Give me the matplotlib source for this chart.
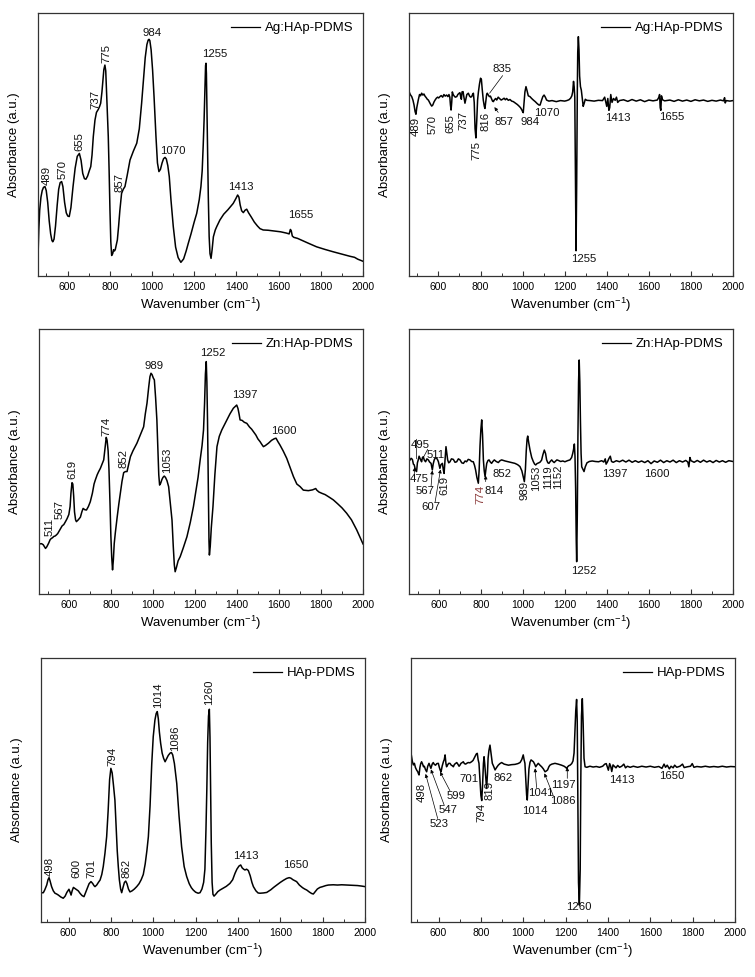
import matplotlib
matplotlib.use("Agg")
import matplotlib.pyplot as plt
from matplotlib.ticker import MultipleLocator

plt.rcParams['font.family'] = ['Liberation Sans', 'DejaVu Sans']
plt.rcParams['mathtext.fontset'] = 'custom'
plt.rcParams['mathtext.rm'] = 'Liberation Sans'
plt.rcParams['mathtext.it'] = 'Liberation Sans:italic'
plt.rcParams['mathtext.bf'] = 'Liberation Sans:bold'

# ---------------- DATA (wavenumber cm^-1, absorbance a.u.) ----------------
ag_abs = [(461, 0.10), (464, 0.18), (468, 0.25), (474, 0.30), (480, 0.325), (486, 0.337), (493, 0.340),
          (499, 0.325), (506, 0.28), (513, 0.21), (520, 0.16), (526, 0.135), (530, 0.130), (536, 0.14),
          (543, 0.19), (551, 0.27), (558, 0.33), (565, 0.355), (572, 0.359), (578, 0.34), (586, 0.28),
          (594, 0.24), (601, 0.228), (608, 0.226), (616, 0.26), (626, 0.34), (636, 0.41), (646, 0.455),
          (656, 0.466), (664, 0.44), (672, 0.39), (680, 0.37), (687, 0.368), (695, 0.38), (703, 0.40),
          (710, 0.416), (716, 0.46), (722, 0.53), (730, 0.593), (737, 0.622), (746, 0.634), (752, 0.645),
          (757, 0.657), (763, 0.70), (768, 0.75), (772, 0.785), (777, 0.802), (781, 0.78), (785, 0.70),
          (789, 0.61), (793, 0.53), (797, 0.40), (801, 0.25), (805, 0.13), (809, 0.078), (814, 0.085),
          (818, 0.10), (822, 0.095), (826, 0.10), (831, 0.118), (836, 0.137), (842, 0.19), (848, 0.25),
          (856, 0.314), (864, 0.33), (872, 0.340), (882, 0.38), (896, 0.441), (912, 0.475), (928, 0.505),
          (940, 0.56), (951, 0.657), (960, 0.75), (968, 0.83), (976, 0.88), (982, 0.897), (986, 0.900),
          (990, 0.895), (996, 0.86), (1003, 0.783), (1010, 0.68), (1019, 0.530), (1026, 0.43),
          (1033, 0.397), (1040, 0.405), (1048, 0.43), (1055, 0.446), (1062, 0.451), (1068, 0.445),
          (1075, 0.42), (1082, 0.378), (1090, 0.29), (1101, 0.188), (1112, 0.11), (1124, 0.07),
          (1137, 0.052), (1150, 0.065), (1162, 0.095), (1172, 0.124), (1185, 0.16), (1200, 0.205),
          (1212, 0.238), (1224, 0.29), (1232, 0.34), (1238, 0.40), (1243, 0.50), (1247, 0.593),
          (1251, 0.72), (1254, 0.80), (1256, 0.809), (1258, 0.77), (1261, 0.62), (1264, 0.45),
          (1267, 0.30), (1271, 0.15), (1275, 0.085), (1280, 0.067), (1285, 0.10), (1291, 0.149),
          (1300, 0.175), (1307, 0.188), (1322, 0.213), (1340, 0.235), (1360, 0.252), (1385, 0.276),
          (1398, 0.295), (1406, 0.308), (1412, 0.300), (1418, 0.270), (1425, 0.248), (1433, 0.241),
          (1441, 0.250), (1449, 0.254), (1458, 0.240), (1470, 0.225), (1485, 0.205), (1500, 0.190),
          (1512, 0.180), (1527, 0.175), (1550, 0.174), (1580, 0.171), (1610, 0.168), (1638, 0.163),
          (1650, 0.160), (1656, 0.177), (1660, 0.172), (1665, 0.152), (1672, 0.147), (1690, 0.143),
          (1701, 0.139), (1740, 0.125), (1780, 0.111), (1820, 0.101), (1859, 0.092), (1900, 0.083),
          (1938, 0.075), (1960, 0.071), (1975, 0.064), (2000, 0.056)]

ag_der = [(461, 0.700), (466, 0.690), (473, 0.682), (479, 0.668), (484, 0.650), (489, 0.625), (493, 0.615),
          (497, 0.640), (504, 0.669), (510, 0.690), (515, 0.685), (520, 0.695), (526, 0.688), (531, 0.692),
          (536, 0.684), (542, 0.678), (547, 0.672), (552, 0.669), (558, 0.660), (563, 0.652), (568, 0.646),
          (573, 0.650), (579, 0.662), (584, 0.669), (590, 0.676), (596, 0.680), (601, 0.677), (607, 0.682),
          (613, 0.686), (620, 0.680), (626, 0.690), (632, 0.684), (639, 0.688), (645, 0.682), (650, 0.690),
          (654, 0.680), (657, 0.650), (660, 0.631), (663, 0.660), (666, 0.700), (670, 0.690), (675, 0.684),
          (680, 0.680), (687, 0.682), (692, 0.690), (697, 0.694), (702, 0.697), (706, 0.680), (709, 0.672),
          (712, 0.700), (717, 0.701), (721, 0.680), (726, 0.657), (730, 0.672), (735, 0.690), (742, 0.695),
          (748, 0.684), (753, 0.680), (758, 0.682), (762, 0.690), (766, 0.695), (770, 0.660), (774, 0.560),
          (778, 0.525), (782, 0.590), (786, 0.669), (790, 0.700), (795, 0.730), (800, 0.752), (804, 0.748),
          (808, 0.710), (813, 0.669), (818, 0.645), (821, 0.637), (825, 0.665), (829, 0.690), (832, 0.695),
          (837, 0.688), (842, 0.682), (847, 0.684), (852, 0.675), (857, 0.665), (861, 0.663), (866, 0.670),
          (872, 0.675), (877, 0.669), (884, 0.680), (890, 0.675), (898, 0.669), (905, 0.672), (912, 0.676),
          (918, 0.670), (924, 0.675), (932, 0.668), (940, 0.671), (948, 0.665), (956, 0.663), (965, 0.658),
          (975, 0.652), (983, 0.646), (990, 0.640), (996, 0.632), (1000, 0.625), (1003, 0.621),
          (1007, 0.660), (1011, 0.700), (1016, 0.720), (1021, 0.705), (1027, 0.685), (1035, 0.682),
          (1043, 0.675), (1051, 0.669), (1060, 0.663), (1070, 0.655), (1078, 0.650), (1083, 0.650),
          (1090, 0.668), (1096, 0.682), (1102, 0.688), (1108, 0.680), (1114, 0.669), (1125, 0.665),
          (1140, 0.667), (1160, 0.663), (1180, 0.667), (1200, 0.665), (1210, 0.667), (1220, 0.670),
          (1228, 0.676), (1234, 0.685), (1238, 0.700), (1242, 0.740), (1245, 0.720), (1248, 0.680),
          (1251, 0.400), (1254, 0.096), (1257, 0.350), (1260, 0.700), (1262, 0.850), (1265, 0.910),
          (1268, 0.860), (1271, 0.760), (1275, 0.720), (1279, 0.707), (1283, 0.680), (1288, 0.645),
          (1292, 0.655), (1298, 0.672), (1305, 0.668), (1320, 0.667), (1340, 0.665), (1360, 0.668),
          (1380, 0.667), (1390, 0.680), (1396, 0.660), (1400, 0.645), (1405, 0.675), (1410, 0.630),
          (1414, 0.640), (1419, 0.690), (1425, 0.660), (1432, 0.675), (1440, 0.668), (1446, 0.680),
          (1452, 0.660), (1460, 0.667), (1480, 0.670), (1500, 0.664), (1520, 0.671), (1540, 0.665),
          (1560, 0.670), (1580, 0.663), (1600, 0.669), (1620, 0.666), (1640, 0.669), (1648, 0.680),
          (1651, 0.690), (1654, 0.640), (1657, 0.630), (1660, 0.685), (1665, 0.670), (1675, 0.666),
          (1700, 0.669), (1720, 0.664), (1740, 0.670), (1760, 0.665), (1780, 0.669), (1800, 0.664),
          (1820, 0.670), (1840, 0.666), (1860, 0.669), (1880, 0.664), (1900, 0.668), (1920, 0.665),
          (1940, 0.669), (1955, 0.666), (1960, 0.678), (1963, 0.658), (1968, 0.667), (1985, 0.665),
          (2000, 0.667)]

zn_abs = [(461, 0.189), (470, 0.190), (478, 0.186), (484, 0.178), (489, 0.172), (495, 0.178), (504, 0.192),
          (511, 0.205), (517, 0.210), (522, 0.212), (528, 0.217), (535, 0.219), (541, 0.223), (547, 0.228),
          (552, 0.235), (560, 0.247), (568, 0.257), (576, 0.262), (584, 0.273), (592, 0.285), (600, 0.300),
          (606, 0.330), (610, 0.380), (615, 0.420), (619, 0.415), (623, 0.370), (627, 0.310), (632, 0.280),
          (636, 0.273), (645, 0.280), (655, 0.290), (662, 0.310), (668, 0.323), (676, 0.318), (684, 0.317),
          (693, 0.330), (702, 0.348), (712, 0.380), (720, 0.415), (726, 0.430), (735, 0.450), (742, 0.462),
          (750, 0.474), (758, 0.490), (766, 0.506), (772, 0.550), (778, 0.591), (782, 0.580), (787, 0.540),
          (791, 0.470), (796, 0.340), (800, 0.220), (804, 0.140), (808, 0.091), (812, 0.130), (816, 0.190),
          (821, 0.229), (830, 0.290), (838, 0.340), (845, 0.380), (853, 0.425), (861, 0.458), (869, 0.462),
          (877, 0.462), (885, 0.490), (893, 0.518), (905, 0.540), (915, 0.555), (924, 0.569), (935, 0.590),
          (946, 0.610), (956, 0.631), (964, 0.680), (972, 0.720), (980, 0.780), (986, 0.820), (991, 0.833),
          (996, 0.828), (1002, 0.815), (1007, 0.808), (1013, 0.740), (1019, 0.657), (1024, 0.540),
          (1028, 0.450), (1032, 0.411), (1037, 0.418), (1043, 0.432), (1048, 0.440), (1054, 0.445),
          (1060, 0.440), (1067, 0.428), (1075, 0.405), (1083, 0.340), (1091, 0.279), (1097, 0.180),
          (1102, 0.110), (1106, 0.084), (1112, 0.100), (1120, 0.125), (1130, 0.141), (1145, 0.175),
          (1162, 0.216), (1178, 0.270), (1193, 0.330), (1205, 0.390), (1215, 0.440), (1225, 0.506),
          (1234, 0.560), (1241, 0.619), (1246, 0.720), (1250, 0.830), (1254, 0.877), (1257, 0.800),
          (1260, 0.657), (1264, 0.400), (1267, 0.200), (1269, 0.147), (1273, 0.180), (1278, 0.250),
          (1286, 0.330), (1295, 0.450), (1305, 0.556), (1316, 0.595), (1328, 0.619), (1340, 0.638),
          (1352, 0.657), (1367, 0.680), (1383, 0.701), (1392, 0.708), (1399, 0.713), (1405, 0.700),
          (1410, 0.680), (1415, 0.657), (1425, 0.655), (1435, 0.648), (1447, 0.644), (1460, 0.630),
          (1470, 0.622), (1478, 0.613), (1490, 0.600), (1500, 0.585), (1510, 0.575), (1518, 0.565),
          (1526, 0.556), (1535, 0.560), (1550, 0.569), (1565, 0.580), (1578, 0.586), (1586, 0.588),
          (1595, 0.575), (1605, 0.562), (1620, 0.540), (1637, 0.512), (1652, 0.480), (1669, 0.443),
          (1685, 0.415), (1701, 0.405), (1716, 0.392), (1740, 0.390), (1760, 0.393), (1775, 0.398),
          (1780, 0.392), (1790, 0.385), (1804, 0.380), (1820, 0.375), (1840, 0.365), (1859, 0.355),
          (1880, 0.340), (1900, 0.325), (1922, 0.305), (1945, 0.280), (1970, 0.242), (1985, 0.215),
          (2000, 0.189)]

zn_der = [(462, 0.505), (468, 0.512), (474, 0.508), (479, 0.490), (483, 0.487), (488, 0.470), (494, 0.462),
          (498, 0.495), (502, 0.506), (506, 0.520), (510, 0.512), (514, 0.505), (518, 0.499), (522, 0.515),
          (526, 0.518), (531, 0.505), (537, 0.499), (543, 0.510), (550, 0.506), (556, 0.498), (563, 0.493),
          (566, 0.480), (569, 0.468), (573, 0.490), (578, 0.506), (584, 0.515), (590, 0.512), (595, 0.505),
          (598, 0.499), (602, 0.485), (605, 0.474), (610, 0.488), (617, 0.493), (621, 0.470), (625, 0.455),
          (629, 0.500), (634, 0.556), (638, 0.530), (642, 0.506), (647, 0.495), (653, 0.499), (660, 0.510),
          (669, 0.508), (677, 0.497), (685, 0.499), (693, 0.510), (701, 0.506), (709, 0.495), (717, 0.493),
          (725, 0.502), (732, 0.499), (740, 0.508), (748, 0.506), (756, 0.500), (764, 0.499), (770, 0.485),
          (775, 0.468), (781, 0.440), (788, 0.418), (792, 0.470), (796, 0.560), (800, 0.620), (804, 0.657),
          (808, 0.600), (812, 0.506), (816, 0.465), (820, 0.443), (824, 0.470), (828, 0.493), (834, 0.504),
          (839, 0.506), (845, 0.498), (851, 0.493), (857, 0.500), (864, 0.506), (873, 0.500), (883, 0.496),
          (891, 0.503), (899, 0.506), (915, 0.502), (931, 0.499), (947, 0.496), (962, 0.493), (975, 0.488),
          (986, 0.481), (995, 0.465), (1002, 0.440), (1007, 0.424), (1012, 0.470), (1016, 0.540),
          (1020, 0.585), (1023, 0.596), (1028, 0.570), (1034, 0.543), (1042, 0.515), (1050, 0.499),
          (1056, 0.490), (1061, 0.487), (1067, 0.492), (1073, 0.494), (1081, 0.497), (1089, 0.505),
          (1095, 0.525), (1102, 0.543), (1108, 0.530), (1113, 0.506), (1119, 0.495), (1124, 0.493),
          (1130, 0.500), (1137, 0.506), (1143, 0.500), (1149, 0.496), (1155, 0.501), (1162, 0.506),
          (1169, 0.504), (1180, 0.500), (1190, 0.502), (1200, 0.499), (1212, 0.503), (1224, 0.506),
          (1232, 0.515), (1237, 0.530), (1241, 0.545), (1245, 0.566), (1248, 0.520), (1251, 0.400),
          (1254, 0.200), (1256, 0.122), (1259, 0.300), (1262, 0.600), (1265, 0.800), (1268, 0.883),
          (1271, 0.800), (1274, 0.650), (1277, 0.530), (1280, 0.480), (1286, 0.470), (1291, 0.462),
          (1297, 0.480), (1305, 0.495), (1316, 0.500), (1330, 0.502), (1345, 0.500), (1360, 0.499),
          (1375, 0.503), (1385, 0.498), (1392, 0.510), (1396, 0.490), (1402, 0.498), (1410, 0.512),
          (1416, 0.520), (1422, 0.500), (1430, 0.497), (1445, 0.503), (1460, 0.499), (1475, 0.505),
          (1490, 0.498), (1505, 0.505), (1520, 0.497), (1535, 0.503), (1550, 0.497), (1565, 0.502),
          (1580, 0.496), (1595, 0.503), (1610, 0.492), (1625, 0.502), (1640, 0.497), (1655, 0.505),
          (1670, 0.496), (1685, 0.503), (1700, 0.498), (1715, 0.505), (1730, 0.496), (1745, 0.503),
          (1760, 0.498), (1775, 0.504), (1785, 0.498), (1790, 0.480), (1795, 0.515), (1800, 0.503),
          (1815, 0.497), (1830, 0.504), (1845, 0.497), (1860, 0.505), (1875, 0.498), (1890, 0.503),
          (1905, 0.496), (1920, 0.504), (1935, 0.498), (1950, 0.503), (1965, 0.497), (1980, 0.503),
          (2000, 0.500)]

hap_abs = [(471, 0.109), (476, 0.111), (481, 0.111), (488, 0.122), (497, 0.140), (503, 0.160), (508, 0.168),
           (513, 0.155), (520, 0.134), (528, 0.118), (536, 0.109), (544, 0.106), (552, 0.102), (563, 0.095),
           (575, 0.090), (584, 0.098), (592, 0.112), (602, 0.124), (607, 0.114), (612, 0.102), (617, 0.118),
           (623, 0.131), (630, 0.127), (638, 0.122), (646, 0.118), (655, 0.108), (664, 0.100), (673, 0.096),
           (680, 0.110), (689, 0.128), (697, 0.145), (706, 0.153), (714, 0.146), (720, 0.138), (725, 0.134),
           (733, 0.140), (741, 0.150), (749, 0.159), (757, 0.180), (764, 0.210), (772, 0.260), (780, 0.323),
           (787, 0.420), (794, 0.540), (800, 0.582), (806, 0.565), (812, 0.520), (819, 0.462), (825, 0.360),
           (830, 0.270), (835, 0.210), (840, 0.160), (846, 0.125), (851, 0.111), (857, 0.130), (864, 0.150),
           (870, 0.155), (876, 0.145), (883, 0.125), (890, 0.114), (900, 0.118), (911, 0.125), (922, 0.134),
           (933, 0.145), (943, 0.160), (953, 0.180), (962, 0.220), (970, 0.270), (977, 0.323), (985, 0.440),
           (993, 0.600), (1000, 0.702), (1008, 0.765), (1014, 0.790), (1019, 0.797), (1024, 0.770),
           (1029, 0.720), (1035, 0.677), (1042, 0.640), (1049, 0.620), (1056, 0.607), (1063, 0.618),
           (1071, 0.631), (1080, 0.640), (1086, 0.642), (1092, 0.633), (1100, 0.600), (1111, 0.525),
           (1122, 0.400), (1134, 0.285), (1146, 0.210), (1158, 0.172), (1170, 0.145), (1180, 0.130),
           (1189, 0.121), (1200, 0.113), (1212, 0.109), (1221, 0.111), (1230, 0.125), (1238, 0.150),
           (1244, 0.200), (1249, 0.350), (1253, 0.500), (1257, 0.680), (1261, 0.780), (1265, 0.806),
           (1268, 0.700), (1271, 0.500), (1274, 0.300), (1278, 0.150), (1282, 0.105), (1287, 0.098),
           (1295, 0.105), (1305, 0.115), (1315, 0.121), (1330, 0.128), (1345, 0.135), (1362, 0.146),
           (1375, 0.160), (1386, 0.184), (1395, 0.200), (1405, 0.212), (1413, 0.216), (1420, 0.205),
           (1427, 0.200), (1433, 0.197), (1441, 0.200), (1449, 0.195), (1458, 0.175), (1466, 0.150),
           (1473, 0.134), (1485, 0.118), (1495, 0.110), (1504, 0.109), (1520, 0.110), (1536, 0.112),
           (1555, 0.122), (1570, 0.132), (1583, 0.140), (1600, 0.150), (1615, 0.158), (1630, 0.165),
           (1642, 0.168), (1650, 0.166), (1660, 0.160), (1677, 0.153), (1690, 0.140), (1705, 0.130),
           (1715, 0.125), (1725, 0.121), (1738, 0.113), (1748, 0.108), (1756, 0.106), (1765, 0.115),
           (1775, 0.125), (1787, 0.131), (1800, 0.134), (1815, 0.138), (1827, 0.140), (1850, 0.141),
           (1870, 0.140), (1890, 0.141), (1913, 0.140), (1940, 0.139), (1965, 0.138), (1985, 0.136),
           (2000, 0.134)]

hap_der = [(472, 0.630), (476, 0.610), (481, 0.595), (486, 0.601), (491, 0.585), (497, 0.575), (502, 0.569),
           (505, 0.562), (508, 0.557), (512, 0.585), (516, 0.600), (520, 0.607), (525, 0.598), (529, 0.588),
           (533, 0.590), (538, 0.578), (544, 0.569), (549, 0.590), (555, 0.601), (559, 0.592), (564, 0.582),
           (570, 0.598), (575, 0.604), (580, 0.597), (586, 0.594), (592, 0.600), (599, 0.601), (604, 0.585),
           (608, 0.575), (612, 0.569), (617, 0.590), (623, 0.607), (627, 0.615), (631, 0.633), (635, 0.600),
           (638, 0.588), (643, 0.595), (648, 0.601), (654, 0.601), (660, 0.594), (665, 0.592), (670, 0.588),
           (675, 0.597), (680, 0.600), (686, 0.604), (692, 0.597), (697, 0.590), (701, 0.594), (706, 0.601),
           (712, 0.604), (717, 0.607), (722, 0.600), (728, 0.598), (733, 0.601), (740, 0.604), (748, 0.603),
           (756, 0.607), (763, 0.612), (768, 0.620), (772, 0.626), (778, 0.636), (783, 0.639), (787, 0.615),
           (791, 0.601), (796, 0.530), (800, 0.480), (804, 0.460), (808, 0.520), (812, 0.600), (815, 0.626),
           (818, 0.600), (822, 0.560), (827, 0.506), (831, 0.560), (834, 0.620), (838, 0.650), (843, 0.670),
           (848, 0.640), (854, 0.601), (860, 0.590), (867, 0.576), (874, 0.585), (882, 0.594), (890, 0.600),
           (898, 0.604), (910, 0.598), (920, 0.596), (930, 0.594), (945, 0.596), (961, 0.597), (975, 0.600),
           (985, 0.604), (993, 0.615), (1000, 0.633), (1004, 0.615), (1008, 0.601), (1012, 0.540),
           (1016, 0.480), (1019, 0.462), (1023, 0.520), (1027, 0.580), (1032, 0.605), (1037, 0.614),
           (1043, 0.610), (1048, 0.607), (1054, 0.598), (1059, 0.588), (1065, 0.595), (1071, 0.601),
           (1079, 0.594), (1087, 0.588), (1095, 0.580), (1103, 0.569), (1109, 0.572), (1115, 0.576),
           (1121, 0.588), (1126, 0.594), (1135, 0.598), (1150, 0.601), (1165, 0.598), (1181, 0.594),
           (1193, 0.590), (1200, 0.586), (1205, 0.582), (1210, 0.588), (1215, 0.592), (1221, 0.594),
           (1229, 0.600), (1235, 0.610), (1240, 0.640), (1244, 0.720), (1248, 0.800), (1252, 0.843),
           (1255, 0.760), (1258, 0.450), (1261, 0.150), (1265, 0.064), (1269, 0.200), (1272, 0.550),
           (1275, 0.780), (1279, 0.846), (1283, 0.750), (1287, 0.620), (1292, 0.588), (1300, 0.586),
           (1315, 0.590), (1330, 0.587), (1345, 0.589), (1360, 0.586), (1375, 0.590), (1385, 0.598),
           (1392, 0.600), (1398, 0.585), (1402, 0.575), (1408, 0.600), (1413, 0.590), (1418, 0.570),
           (1424, 0.595), (1430, 0.590), (1438, 0.584), (1446, 0.593), (1455, 0.586), (1465, 0.590),
           (1475, 0.598), (1483, 0.584), (1492, 0.590), (1505, 0.586), (1520, 0.590), (1540, 0.586),
           (1560, 0.590), (1580, 0.587), (1600, 0.590), (1620, 0.586), (1640, 0.589), (1655, 0.582),
           (1665, 0.598), (1672, 0.586), (1680, 0.594), (1690, 0.580), (1698, 0.590), (1708, 0.584),
           (1715, 0.594), (1725, 0.586), (1740, 0.590), (1752, 0.598), (1760, 0.585), (1775, 0.588),
           (1790, 0.590), (1798, 0.600), (1806, 0.586), (1820, 0.589), (1840, 0.587), (1860, 0.590),
           (1880, 0.587), (1900, 0.589), (1920, 0.587), (1940, 0.590), (1960, 0.587), (1980, 0.589),
           (2000, 0.588)]

# peak labels: (text, wavenumber, absorbance)
ag_abs_peaks = [('489', 499, 0.345), ('570', 578, 0.37), ('655', 656, 0.475), ('737', 730, 0.635),
                ('775', 785, 0.81), ('857', 848, 0.32), ('984', 1000, 0.905), ('1070', 1101, 0.455),
                ('1255', 1298, 0.826), ('1413', 1422, 0.318), ('1655', 1703, 0.212)]
ag_der_peaks = [('489', 493, 0.606), ('570', 570, 0.612), ('655', 658, 0.615), ('737', 721, 0.628),
                ('775', 782, 0.515), ('816', 825, 0.625), ('835', 900, 0.768), ('857', 911, 0.603),
                ('984', 1034, 0.603), ('1070', 1117, 0.64), ('1413', 1455, 0.619), ('1655', 1708, 0.625),
                ('1255', 1289, 0.082)]
zn_abs_peaks = [('511', 510, 0.22), ('567', 558, 0.282), ('619', 615, 0.435), ('774', 781, 0.598),
                ('852', 858, 0.475), ('989', 1007, 0.84), ('1053', 1068, 0.458), ('1252', 1286, 0.89),
                ('1397', 1439, 0.732), ('1600', 1621, 0.595)]
zn_der_peaks = [('495', 512, 0.582), ('511', 585, 0.542), ('475', 507, 0.452), ('567', 537, 0.406),
                ('607', 561, 0.346), ('619', 628, 0.446), ('774', 796, 0.411), ('814', 861, 0.408),
                ('852', 899, 0.471), ('989', 1010, 0.427), ('1053', 1062, 0.484), ('1119', 1118, 0.484),
                ('1152', 1168, 0.49), ('1252', 1290, 0.106), ('1397', 1439, 0.471), ('1600', 1637, 0.471)]
hap_abs_peaks = [('498', 512, 0.175), ('600', 635, 0.168), ('701', 709, 0.168), ('794', 807, 0.59),
                 ('862', 875, 0.165), ('1014', 1024, 0.81), ('1086', 1103, 0.648), ('1260', 1263, 0.822),
                 ('1413', 1437, 0.23), ('1650', 1673, 0.198)]
hap_der_peaks = [('498', 520, 0.528), ('523', 602, 0.392), ('547', 643, 0.442), ('599', 681, 0.497),
                 ('701', 744, 0.56), ('794', 804, 0.452), ('819', 843, 0.533), ('862', 903, 0.566),
                 ('1014', 1055, 0.44), ('1041', 1082, 0.509), ('1086', 1189, 0.478), ('1197', 1192, 0.537),
                 ('1260', 1263, 0.075), ('1413', 1465, 0.556), ('1650', 1701, 0.572)]

sample_names = ['Ag:HAp-PDMS', 'Zn:HAp-PDMS', 'HAp-PDMS']

# ---------------- LAYOUT / STYLE ----------------
W, H = 755, 977
rot_sets = {
    'ag_abs': {'489', '570', '655', '737', '775', '857'},
    'ag_der': {'489', '570', '655', '737', '775', '816'},
    'zn_abs': {'511', '567', '619', '774', '852', '1053'},
    'zn_der': {'619', '774', '989', '1053', '1119', '1152'},
    'hap_abs': {'498', '600', '701', '794', '862', '1014', '1086', '1260'},
    'hap_der': {'498', '794', '819'},
}

panels = [
    dict(key='ag_abs', box=(38, 13, 363, 276), xlim=(460, 2000), data=ag_abs, peaks=ag_abs_peaks,
         name=sample_names[0], below=False, arrows=[]),
    dict(key='ag_der', box=(409, 13, 733, 276), xlim=(460, 2000), data=ag_der, peaks=ag_der_peaks,
         name=sample_names[0], below=True,
         arrows=[((905, 0.762), (843, 0.695), '-'), ((884, 0.622), (866, 0.642), '-|>')]),
    dict(key='zn_abs', box=(39, 329, 363, 594), xlim=(458, 2000), data=zn_abs, peaks=zn_abs_peaks,
         name=sample_names[1], below=False, arrows=[]),
    dict(key='zn_der', box=(409, 329, 733, 594), xlim=(458, 2000), data=zn_der, peaks=zn_der_peaks,
         name=sample_names[1], below=True,
         arrows=[((494, 0.584), (493, 0.51), '-'), ((547, 0.546), (524, 0.512), '-'),
                 ((483, 0.452), (485, 0.478), '-|>'), ((563, 0.406), (569, 0.466), '-|>'),
                 ((582, 0.346), (608, 0.470), '-|>'), ((823, 0.424), (823, 0.447), '-|>')]),
    dict(key='hap_abs', box=(41, 658, 365, 922), xlim=(470, 2000), data=hap_abs, peaks=hap_abs_peaks,
         name=sample_names[2], below=False, arrows=[]),
    dict(key='hap_der', box=(411, 658, 735, 922), xlim=(470, 2000), data=hap_der, peaks=hap_der_peaks,
         name=sample_names[2], below=True,
         arrows=[((596, 0.392), (539, 0.561), '-|>'), ((627, 0.442), (564, 0.578), '-|>'),
                 ((654, 0.497), (607, 0.569), '-|>'), ((1063, 0.509), (1056, 0.582), '-|>'),
                 ((1142, 0.478), (1100, 0.563), '-|>'), ((1208, 0.544), (1208, 0.586), '-|>')]),
]

fig = plt.figure(figsize=(W / 100, H / 100), dpi=100)

for p in panels:
    l, t, r, b = p['box']
    ax = fig.add_axes([l / W, 1 - b / H, (r - l) / W, (b - t) / H])
    xs = [pt[0] for pt in p['data']]
    ys = [pt[1] for pt in p['data']]
    ax.plot(xs, ys, color='black', lw=1.1, label=p['name'])
    ax.set_xlim(*p['xlim'])
    ax.set_ylim(0, 1)
    ax.set_yticks([])
    ax.xaxis.set_major_locator(MultipleLocator(200))
    ax.xaxis.set_minor_locator(MultipleLocator(100))
    ax.tick_params(axis='x', which='major', direction='in', length=3.5, width=0.8,
                   labelsize=7.5, pad=4, color='#333333')
    ax.tick_params(axis='x', which='minor', direction='in', length=2.5, width=0.7, color='#333333')
    for s in ax.spines.values():
        s.set_linewidth(0.9)
        s.set_color('#333333')
    ax.set_xlabel('Wavenumber (cm$^{-1}$)', fontsize=9.5, labelpad=3)
    ax.set_ylabel('Absorbance (a.u.)', fontsize=9.5, labelpad=13)
    leg = ax.legend(loc='upper right', frameon=False, fontsize=9.5, handlelength=2.2,
                    handletextpad=0.4, borderaxespad=0.3)
    for ln in leg.get_lines():
        ln.set_linewidth(0.9)
    rset = rot_sets[p['key']]
    for txt, x, y in p['peaks']:
        rot = 90 if txt in rset else 0
        va = 'top' if p['below'] else 'bottom'
        if p['key'] == 'ag_der' and txt == '835':
            va = 'bottom'
        color = '#8b3a3a' if (p['key'] == 'zn_der' and txt == '774') else '#111111'
        ax.text(x, y, txt, rotation=rot, ha='center', va=va, fontsize=8.2, color=color)
    for (x0, y0), (x1, y1), style in p['arrows']:
        ax.annotate('', xy=(x1, y1), xytext=(x0, y0),
                    arrowprops=dict(arrowstyle=style, lw=0.5, color='black',
                                    mutation_scale=5, shrinkA=0, shrinkB=0))

fig.savefig('out.png', dpi=100)
